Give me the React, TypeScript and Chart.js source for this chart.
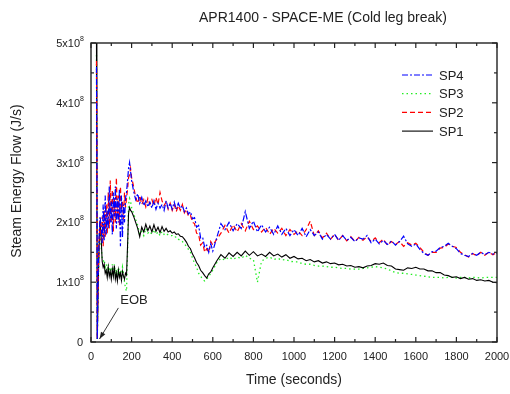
import React, { useEffect, useRef } from "react";
import { Chart, registerables } from "chart.js";

Chart.register(...registerables);

const FONT = "'Liberation Sans', Arial, Helvetica, sans-serif";

// Time axis (seconds)
const timeSec = [
  27, 29, 31, 35, 40, 45, 50, 55, 60, 65, 70, 75, 80, 85, 90, 95, 100, 105, 110, 115, 120, 125, 130, 135, 140, 145, 150, 155, 160, 165, 170, 175, 180, 185, 190, 195, 200,
  210, 220, 230, 240, 250, 260, 270, 280, 290, 300, 310, 320, 330, 340, 350, 360, 370, 380, 390, 400, 410, 420, 430, 440, 450, 460, 470, 480, 490, 500, 510, 520, 530, 540, 550, 560, 570, 580, 590, 600,
  620, 640, 660, 680, 700, 720, 740, 760, 780, 800, 820, 840, 860, 880, 900, 920, 940, 960, 980, 1000,
  1020, 1040, 1060, 1080, 1100, 1120, 1140, 1160, 1180, 1200, 1220, 1240, 1260, 1280, 1300, 1320, 1340, 1360, 1380, 1400,
  1420, 1440, 1460, 1480, 1500, 1520, 1540, 1560, 1580, 1600, 1620, 1640, 1660, 1680, 1700, 1720, 1740, 1760, 1780, 1800,
  1820, 1840, 1860, 1880, 1900, 1920, 1940, 1960, 1980, 2000,
];

// Steam energy flow, in units of 1x10^8 J/s
const sp1 = [
  5.0, 2.5, 0.05, 0.9, 1.6, 2.0, 1.75, 1.35, 1.25, 1.3, 1.15, 1.2, 1.08, 1.25, 1.1, 1.18, 1.05, 1.22, 1.1, 1.28, 1.05, 1.15, 1.02, 1.2, 1.08, 1.15, 1.03, 1.18, 1.1, 1.05, 1.15, 1.12, 1.6, 2.15, 2.25, 2.2, 2.18,
  2.1, 2.0, 1.9, 1.76, 1.92, 1.84, 1.97, 1.86, 1.94, 1.84, 1.96, 1.85, 1.92, 1.83, 1.93, 1.85, 1.9, 1.84, 1.86, 1.82, 1.84, 1.8, 1.81, 1.77, 1.76, 1.72, 1.67, 1.6, 1.56, 1.47, 1.41, 1.33, 1.28, 1.2, 1.16, 1.11, 1.07, 1.14, 1.17, 1.24,
  1.36, 1.46, 1.4, 1.49, 1.43, 1.5, 1.44, 1.52, 1.45, 1.51, 1.44, 1.47, 1.43, 1.5, 1.44, 1.47, 1.42, 1.46, 1.4, 1.43,
  1.39, 1.4, 1.36, 1.38, 1.34, 1.36, 1.32, 1.34, 1.31, 1.32, 1.29, 1.3, 1.27, 1.28, 1.25, 1.26, 1.24, 1.27, 1.28, 1.31,
  1.3, 1.32, 1.28, 1.27, 1.22, 1.21, 1.2, 1.24, 1.23, 1.25, 1.22, 1.22, 1.19, 1.19, 1.16, 1.16, 1.12, 1.11, 1.08, 1.09,
  1.06, 1.08, 1.05, 1.06, 1.03, 1.04, 1.02, 1.03, 1.0, 0.99,
];

const sp2 = [
  4.7, 3.4, 0.05, 1.0, 1.7, 2.05, 1.7, 2.1, 1.6, 2.2, 1.75, 2.3, 1.8, 2.5, 1.9, 2.7, 2.0, 2.55, 1.85, 2.4, 2.0, 2.75, 2.1, 2.45, 1.95, 2.6, 2.2, 2.35, 2.05, 2.5, 2.25, 2.4, 2.55, 2.75, 2.8, 2.9, 2.75,
  2.6, 2.42, 2.32, 2.45, 2.3, 2.38, 2.26, 2.4, 2.3, 2.38, 2.28, 2.42, 2.3, 2.5, 2.36, 2.28, 2.34, 2.22, 2.32, 2.2, 2.3, 2.18, 2.28, 2.2, 2.3, 2.16, 2.22, 2.1, 2.12, 2.0, 1.98, 1.82, 1.8, 1.62, 1.66, 1.5, 1.56, 1.5, 1.68, 1.62,
  1.72, 1.82, 1.95, 1.82, 1.96, 1.84, 1.98, 1.86, 2.02, 1.88, 1.94, 1.84, 1.92, 1.8, 1.9, 1.82, 1.9, 1.78, 1.88, 1.8,
  1.86, 1.78, 1.88, 2.02, 1.78, 1.86, 1.74, 1.82, 1.72, 1.8, 1.7, 1.78, 1.69, 1.76, 1.68, 1.75, 1.7, 1.76, 1.68, 1.74,
  1.66, 1.72, 1.62, 1.68, 1.63, 1.68, 1.6, 1.66, 1.62, 1.65, 1.58, 1.5, 1.45, 1.5, 1.5, 1.57, 1.58, 1.64, 1.6, 1.58,
  1.5, 1.46, 1.42, 1.48, 1.44, 1.5, 1.45, 1.5, 1.46, 1.5,
];

const sp3 = [
  4.8, 2.5, 0.05, 0.9, 1.5, 1.9, 1.6, 1.4, 1.35, 1.38, 1.25, 1.3, 1.15, 1.3, 1.18, 1.25, 1.1, 1.3, 1.15, 1.3, 1.1, 1.22, 1.08, 1.25, 1.15, 1.2, 1.1, 1.25, 1.15, 1.0, 0.9, 0.85, 1.5, 2.3, 2.4, 2.35, 2.25,
  2.15, 2.05, 1.95, 1.8, 1.85, 1.78, 1.9, 1.82, 1.85, 1.8, 1.88, 1.8, 1.84, 1.78, 1.85, 1.8, 1.82, 1.79, 1.78, 1.78, 1.75, 1.76, 1.72, 1.7, 1.68, 1.64, 1.6, 1.55, 1.5, 1.4, 1.32, 1.25, 1.15, 1.1, 1.05, 1.02, 1.05, 1.1, 1.15, 1.2,
  1.33, 1.4, 1.37, 1.42, 1.38, 1.42, 1.4, 1.45, 1.4, 1.38, 1.0, 1.35, 1.4, 1.42, 1.38, 1.4, 1.37, 1.38, 1.35, 1.34,
  1.34, 1.31, 1.3, 1.3, 1.28, 1.27, 1.27, 1.26, 1.25, 1.25, 1.24, 1.23, 1.23, 1.22, 1.22, 1.22, 1.23, 1.24, 1.25, 1.26,
  1.25, 1.24, 1.22, 1.19, 1.16, 1.15, 1.15, 1.14, 1.13, 1.12, 1.11, 1.1, 1.09, 1.08, 1.08, 1.08, 1.07, 1.08, 1.08, 1.07,
  1.08, 1.08, 1.07, 1.08, 1.08, 1.07, 1.08, 1.08, 1.08, 1.08,
];

const sp4 = [
  4.6, 3.2, 0.05, 1.1, 1.8, 2.1, 1.9, 1.65, 2.3, 1.7, 2.45, 1.8, 2.2, 1.9, 2.6, 2.0, 2.35, 1.8, 2.5, 2.1, 2.6, 1.9, 2.4, 2.0, 2.55, 1.6, 2.45, 1.75, 2.3, 2.0, 2.4, 2.5, 2.7, 2.9, 3.0, 2.85, 2.7,
  2.52, 2.38, 2.48, 2.32, 2.42, 2.28, 2.36, 2.26, 2.34, 2.24, 2.36, 2.22, 2.32, 2.24, 2.3, 2.2, 2.36, 2.24, 2.32, 2.22, 2.34, 2.22, 2.32, 2.24, 2.28, 2.18, 2.24, 2.14, 2.18, 2.06, 2.08, 1.92, 1.95, 1.74, 1.75, 1.58, 1.62, 1.5, 1.64, 1.52,
  1.75, 1.98, 1.88, 2.0, 1.86, 1.98, 1.9, 2.18, 1.9, 2.02, 1.84, 1.96, 1.84, 1.92, 1.8, 1.94, 1.8, 1.9, 1.78, 1.88,
  1.78, 1.9, 1.76, 1.88, 1.78, 1.84, 1.72, 1.8, 1.72, 1.8, 1.7, 1.78, 1.7, 1.75, 1.68, 1.74, 1.72, 1.78, 1.66, 1.72,
  1.64, 1.7, 1.63, 1.69, 1.62, 1.68, 1.77, 1.64, 1.6, 1.64, 1.55, 1.48, 1.45, 1.51, 1.52, 1.58, 1.6, 1.65, 1.6, 1.56,
  1.48, 1.45, 1.43, 1.48, 1.45, 1.5, 1.46, 1.5, 1.47, 1.49,
];

const xTicks = [0, 200, 400, 600, 800, 1000, 1200, 1400, 1600, 1800, 2000];
const xTickLabels = ["0", "200", "400", "600", "800", "1000", "1200", "1400", "1600", "1800", "2000"];
const yTicks = [0, 1, 2, 3, 4, 5];
const yTickMantissas = ["0", "1", "2", "3", "4", "5"];
const yTickExponent = "8";

const chartTitle = "APR1400 - SPACE-ME (Cold leg break)";
const xTitle = "Time (seconds)";
const yTitle = "Steam Energy Flow (J/s)";

const eobLabel = "EOB";
const eobTextAt = [212, 0.7];
const eobArrowFrom = [135, 0.57];
const eobArrowTo = [42, 0.05];

type Series = { label: string; values: number[]; color: string; dash: number[]; width: number };
const seriesList: Series[] = [
  { label: "SP4", values: sp4, color: "#0000ff", dash: [6, 2, 2, 2], width: 1.2 },
  { label: "SP2", values: sp2, color: "#ff0000", dash: [5, 3], width: 1.2 },
  { label: "SP1", values: sp1, color: "#000000", dash: [], width: 1.1 },
  { label: "SP3", values: sp3, color: "#22ee22", dash: [1.5, 3], width: 1.3 },
];
const legendOrder = ["SP4", "SP3", "SP2", "SP1"];

const overlayPlugin = {
  id: "overlay",
  afterDraw(chart: any) {
    const { ctx, chartArea: a, scales } = chart;
    const xs = scales.x;
    const ys = scales.y;
    ctx.save();

    const seg = (x1: number, y1: number, x2: number, y2: number) => {
      ctx.beginPath();
      ctx.moveTo(x1, y1);
      ctx.lineTo(x2, y2);
      ctx.stroke();
    };

    // frame
    ctx.strokeStyle = "#222";
    ctx.lineWidth = 1.4;
    ctx.setLineDash([]);
    ctx.strokeRect(a.left, a.top, a.right - a.left, a.bottom - a.top);

    // x ticks (major + minor midpoints), inward, top & bottom
    ctx.lineWidth = 1.2;
    for (let i = 0; i < xTicks.length; i++) {
      const px = xs.getPixelForValue(xTicks[i]);
      seg(px, a.bottom, px, a.bottom - 5);
      seg(px, a.top, px, a.top + 5);
      if (i < xTicks.length - 1) {
        const mx = xs.getPixelForValue((xTicks[i] + xTicks[i + 1]) / 2);
        seg(mx, a.bottom, mx, a.bottom - 3);
        seg(mx, a.top, mx, a.top + 3);
      }
    }
    // y ticks, inward, left & right
    for (let i = 0; i < yTicks.length; i++) {
      const py = ys.getPixelForValue(yTicks[i]);
      seg(a.left, py, a.left + 5, py);
      seg(a.right, py, a.right - 5, py);
      if (i < yTicks.length - 1) {
        const my = ys.getPixelForValue((yTicks[i] + yTicks[i + 1]) / 2);
        seg(a.left, my, a.left + 3, my);
        seg(a.right, my, a.right - 3, my);
      }
    }

    ctx.fillStyle = "#222";
    // x tick labels
    ctx.font = `11px ${FONT}`;
    ctx.textAlign = "center";
    ctx.textBaseline = "top";
    xTicks.forEach((t, i) => {
      ctx.fillText(xTickLabels[i], xs.getPixelForValue(t), a.bottom + 9);
    });

    // y tick labels with superscript exponent
    const rightEdge = a.left - 7;
    yTicks.forEach((v, i) => {
      const py = ys.getPixelForValue(v) + 1;
      if (v === 0) {
        ctx.font = `11px ${FONT}`;
        ctx.textAlign = "right";
        ctx.textBaseline = "middle";
        ctx.fillText(yTickMantissas[i], rightEdge - 1, py);
        return;
      }
      ctx.font = `7px ${FONT}`;
      const supW = ctx.measureText(yTickExponent).width;
      ctx.textAlign = "left";
      ctx.textBaseline = "middle";
      ctx.fillText(yTickExponent, rightEdge - supW, py - 5);
      ctx.font = `11px ${FONT}`;
      ctx.textAlign = "right";
      ctx.fillText(`${yTickMantissas[i]}x10`, rightEdge - supW, py);
    });

    // axis titles
    ctx.font = `14px ${FONT}`;
    ctx.textAlign = "center";
    ctx.textBaseline = "middle";
    ctx.fillText(xTitle, (a.left + a.right) / 2, a.bottom + 38);
    ctx.save();
    ctx.translate(17, a.top + 138);
    ctx.rotate(-Math.PI / 2);
    ctx.fillText(yTitle, 0, 0);
    ctx.restore();

    // chart title
    ctx.fillText(chartTitle, (a.left + a.right) / 2 + 29, a.top - 25);

    // legend
    ctx.font = `13px ${FONT}`;
    legendOrder.forEach((name, i) => {
      const s = seriesList.find((q) => q.label === name)!;
      const ly = a.top + 32 + i * 18.7;
      const lx = a.right - 95;
      ctx.strokeStyle = s.color;
      ctx.lineWidth = s.width;
      ctx.setLineDash(s.dash);
      seg(lx, ly, lx + 31, ly);
      ctx.setLineDash([]);
      ctx.fillStyle = "#222";
      ctx.textAlign = "left";
      ctx.textBaseline = "middle";
      ctx.fillText(name, lx + 37, ly + 1);
    });

    // EOB annotation
    ctx.fillStyle = "#222";
    ctx.strokeStyle = "#222";
    ctx.lineWidth = 0.9;
    ctx.font = `13px ${FONT}`;
    ctx.textAlign = "center";
    ctx.textBaseline = "middle";
    ctx.fillText(eobLabel, xs.getPixelForValue(eobTextAt[0]), ys.getPixelForValue(eobTextAt[1]));
    const x1 = xs.getPixelForValue(eobArrowFrom[0]);
    const y1 = ys.getPixelForValue(eobArrowFrom[1]);
    const x2 = xs.getPixelForValue(eobArrowTo[0]);
    const y2 = ys.getPixelForValue(eobArrowTo[1]);
    seg(x1, y1, x2, y2);
    const ang = Math.atan2(y2 - y1, x2 - x1);
    const hl = 7;
    const hw = 2.5;
    ctx.beginPath();
    ctx.moveTo(x2, y2);
    ctx.lineTo(x2 - hl * Math.cos(ang) + hw * Math.sin(ang), y2 - hl * Math.sin(ang) - hw * Math.cos(ang));
    ctx.lineTo(x2 - hl * Math.cos(ang) - hw * Math.sin(ang), y2 - hl * Math.sin(ang) + hw * Math.cos(ang));
    ctx.closePath();
    ctx.fill();

    ctx.restore();
  },
};

export default function App() {
  const ref = useRef<HTMLCanvasElement | null>(null);
  useEffect(() => {
    if (!ref.current) return;
    const chart = new Chart(ref.current, {
      type: "line",
      data: {
        datasets: seriesList.map((s) => ({
          label: s.label,
          data: timeSec.map((t, i) => ({ x: t, y: s.values[i] })),
          borderColor: s.color,
          borderDash: s.dash,
          borderWidth: s.width,
          pointRadius: 0,
          tension: 0,
          fill: false,
        })),
      },
      options: {
        animation: false,
        responsive: false,
        maintainAspectRatio: false,
        events: [],
        layout: { padding: { top: 43, right: 13, left: 0, bottom: 0 } },
        plugins: { legend: { display: false }, tooltip: { enabled: false }, title: { display: false } },
        scales: {
          x: {
            type: "linear",
            min: 0,
            max: 2000,
            ticks: { display: false },
            grid: { display: false },
            border: { display: false },
            afterFit: (sc: any) => {
              sc.height = 52;
            },
          },
          y: {
            type: "linear",
            min: 0,
            max: 5,
            ticks: { display: false },
            grid: { display: false },
            border: { display: false },
            afterFit: (sc: any) => {
              sc.width = 91;
            },
          },
        },
      },
      plugins: [overlayPlugin],
    });
    return () => chart.destroy();
  }, []);
  return (
    <div style={{ position: "fixed", left: 0, top: 0, width: 510, height: 394, background: "#fff" }}>
      <canvas ref={ref} width={510} height={394} style={{ width: 510, height: 394, display: "block" }} />
    </div>
  );
}
